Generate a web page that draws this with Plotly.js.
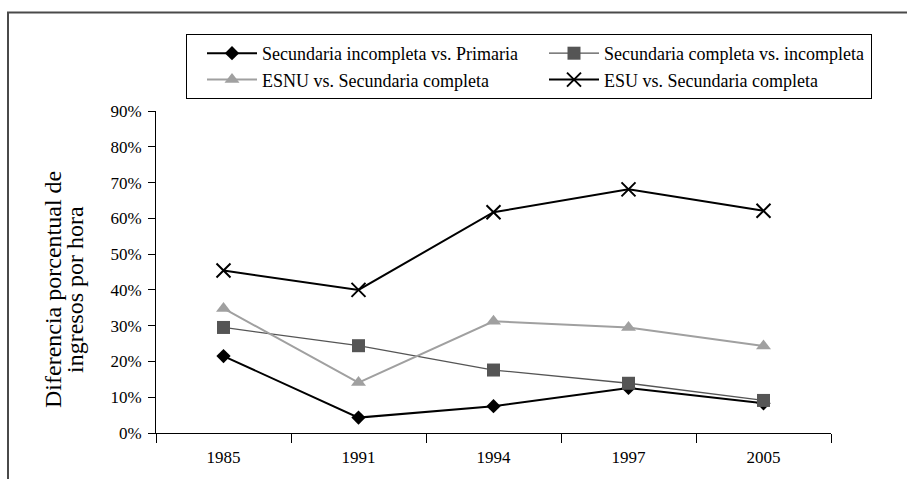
<!DOCTYPE html>
<html>
<head>
<meta charset="utf-8">
<script src="https://cdn.plot.ly/plotly-3.0.1.min.js"></script>
<style>
  html, body { margin: 0; padding: 0; background: #ffffff; }
  #chart { width: 907px; height: 479px; }
</style>
</head>
<body>
<div id="chart"></div>
<script>
// ---- Data ----
const years = ["1985", "1991", "1994", "1997", "2005"];
const secIncVsPrim = [0.215, 0.043, 0.075, 0.126, 0.083];
const secCompVsInc = [0.295, 0.244, 0.176, 0.139, 0.091];
const esnuVsSecComp = [0.348, 0.141, 0.312, 0.295, 0.243];
const esuVsSecComp = [0.454, 0.400, 0.617, 0.681, 0.621];
const seriesNames = [
  "Secundaria incompleta vs. Primaria",
  "Secundaria completa vs. incompleta",
  "ESNU vs. Secundaria completa",
  "ESU vs. Secundaria completa"
];
const yTitleLines = ["Diferencia porcentual de", "ingresos por hora"];

const FONT = "Liberation Serif, Times New Roman, serif";

const traces = [
  {
    x: years, y: secIncVsPrim, name: seriesNames[0], type: "scatter", mode: "lines+markers",
    line: { color: "#000000", width: 2 },
    marker: { symbol: "diamond", size: 11, color: "#000000" }
  },
  {
    x: years, y: secCompVsInc, name: seriesNames[1], type: "scatter", mode: "lines+markers",
    line: { color: "#555555", width: 1.3 },
    marker: { symbol: "square", size: 13, color: "#555555" }
  },
  {
    x: years, y: esnuVsSecComp, name: seriesNames[2], type: "scatter", mode: "lines+markers",
    line: { color: "#a0a0a0", width: 2 },
    marker: { symbol: "triangle-up", size: 13, color: "#a0a0a0" }
  },
  {
    x: years, y: esuVsSecComp, name: seriesNames[3], type: "scatter", mode: "lines+markers",
    line: { color: "#000000", width: 2 },
    marker: { symbol: "x-thin", size: 14, color: "#000000", line: { color: "#000000", width: 2 } }
  }
];

const L = 156, R = 907 - 831, T = 111, B = 479 - 433;
const W = 907 - L - R, H = 479 - T - B;
const px = v => (v - L) / W;
const py = v => (433 - v) / H;

const layout = {
  width: 907, height: 479,
  margin: { l: L, r: R, t: T, b: B, pad: 0 },
  paper_bgcolor: "#ffffff", plot_bgcolor: "#ffffff",
  font: { family: FONT, color: "#000000", size: 17 },
  showlegend: true,
  legend: {
    orientation: "h",
    x: px(872), xanchor: "right",
    y: py(34), yanchor: "top",
    bordercolor: "#000000", borderwidth: 1,
    bgcolor: "#ffffff",
    font: { family: FONT, size: 18, color: "#000000" },
    entrywidth: 262, entrywidthmode: "pixels",
    itemwidth: 50,
    indentation: 15,
    traceorder: "normal"
  },
  xaxis: {
    type: "category",
    range: [-0.5, 4.5],
    autorange: false,
    showline: true, linecolor: "#000000", linewidth: 1,
    ticks: "outside", ticklen: 9, tickcolor: "#000000", tickwidth: 1,
    tickson: "boundaries",
    showgrid: false, zeroline: false,
    ticklabelstandoff: 9,
    tickfont: { family: FONT, size: 17, color: "#000000" }
  },
  yaxis: {
    range: [0, 0.9],
    autorange: false,
    dtick: 0.1, tick0: 0,
    tickformat: ".0%",
    showline: true, linecolor: "#000000", linewidth: 1,
    ticks: "outside", ticklen: 7, tickcolor: "#000000", tickwidth: 1,
    showgrid: false, zeroline: false,
    ticklabelstandoff: 3,
    tickfont: { family: FONT, size: 17, color: "#000000" }
  },
  annotations: [
    {
      text: yTitleLines[0], xref: "paper", yref: "paper",
      x: px(53), y: py(290), xanchor: "center", yanchor: "middle",
      textangle: -90, showarrow: false,
      font: { family: FONT, size: 24, color: "#000000" }
    },
    {
      text: yTitleLines[1], xref: "paper", yref: "paper",
      x: px(75), y: py(290), xanchor: "center", yanchor: "middle",
      textangle: -90, showarrow: false,
      font: { family: FONT, size: 24, color: "#000000" }
    }
  ],
  shapes: [
    { type: "line", xref: "paper", yref: "paper", x0: px(8), x1: px(8), y0: py(12), y1: py(485),
      line: { color: "#4a4a4a", width: 2 } },
    { type: "line", xref: "paper", yref: "paper", x0: px(7), x1: px(915), y0: py(12.5), y1: py(12.5),
      line: { color: "#4a4a4a", width: 2 } }
  ]
};

Plotly.newPlot("chart", traces, layout, { displayModeBar: false, staticPlot: true });
</script>
</body>
</html>
